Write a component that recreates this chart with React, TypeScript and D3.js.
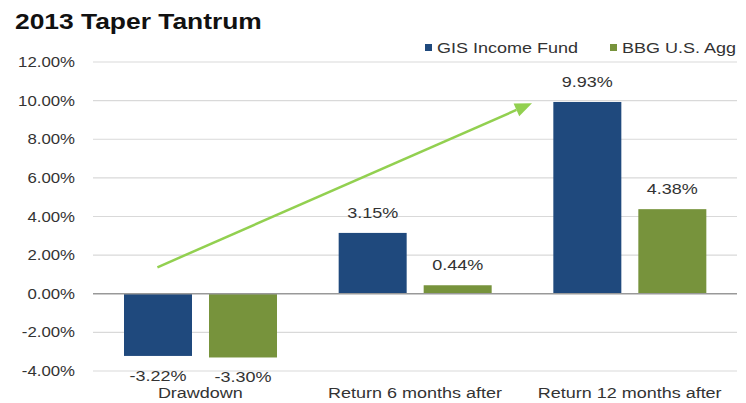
import React from 'react';
import * as d3 from 'd3';

const categories = ['Drawdown', 'Return 6 months after', 'Return 12 months after'];
const seriesNames = ['GIS Income Fund', 'BBG U.S. Agg'];
const gisValues = [-3.22, 3.15, 9.93];
const aggValues = [-3.3, 0.44, 4.38];
const yTicks = [-4, -2, 0, 2, 4, 6, 8, 10, 12];
const colors = ['#1F497D', '#77933C'];

// trend arrow, in data terms: category + offset (fraction of band) and value
const arrowFrom = { cat: 'Drawdown', offset: 0.3, value: 1.37 };
const arrowTo = { cat: 'Return 12 months after', offset: 0.045, value: 9.87 };

const W = 746;
const H = 403;
const SX = 1.2; // source image is stretched horizontally
const FONT = 'Arial, "Liberation Sans", sans-serif';

const Txt = ({ x, y, anchor = 'middle', size = 15, weight = 'normal', fill = '#333', children }: any) => (
    <g transform={`translate(${x},${y}) scale(${SX},1)`}>
        <text x={0} y={0} textAnchor={anchor} fontSize={size} fontWeight={weight} fill={fill} fontFamily={FONT}>
            {children}
        </text>
    </g>
);

const App = () => {
    const x = d3.scaleBand().domain(categories).range([93, 737]);
    const x1 = d3.scaleBand().domain(seriesNames).range([31, 184]).paddingInner(0.2);
    const y = d3.scaleLinear().domain([-4, 12]).range([371, 62]);
    const fmt = (v: number) => d3.format('.2f')(v).replace('\u2212', '-') + '%';

    const data = categories.map((c, i) => ({ cat: c, vals: [gisValues[i], aggValues[i]] }));

    const ax = (x(arrowFrom.cat) as number) + arrowFrom.offset * x.step();
    const ay = y(arrowFrom.value);
    const bx = (x(arrowTo.cat) as number) + arrowTo.offset * x.step();
    const by = y(arrowTo.value);
    const ang = Math.atan2(by - ay, bx - ax);
    const headLen = 17;
    const headW = 7;
    const baseX = bx - headLen * Math.cos(ang);
    const baseY = by - headLen * Math.sin(ang);
    const px = -Math.sin(ang) * headW;
    const py = Math.cos(ang) * headW;

    return (
        <svg width={W} height={H} style={{ display: 'block' }}>
            <style>{'body{margin:0}'}</style>
            <rect width={W} height={H} fill="#fff" />
            <Txt x={15} y={29} anchor="start" size={22} weight="bold" fill="#111">2013 Taper Tantrum</Txt>

            {yTicks.map(t => (
                <g key={t}>
                    {t !== 0 && (
                        <line x1={93} x2={737} y1={y(t)} y2={y(t)} stroke="#d9d9d9" strokeWidth={1.2} />
                    )}
                    <Txt x={75} y={y(t) + 5} anchor="end" size={14}>{fmt(t)}</Txt>
                </g>
            ))}

            {data.map(d => (
                <g key={d.cat} transform={`translate(${x(d.cat)},0)`}>
                    {d.vals.map((v, j) => {
                        const bx0 = x1(seriesNames[j]) as number;
                        const top = y(Math.max(0, v));
                        const bot = y(Math.min(0, v));
                        const cx = bx0 + x1.bandwidth() / 2;
                        return (
                            <g key={j}>
                                <rect x={bx0} y={top} width={x1.bandwidth()} height={bot - top} fill={colors[j]} />
                                <Txt x={cx} y={v >= 0 ? top - 15 : bot + 25} size={15}>{fmt(v)}</Txt>
                            </g>
                        );
                    })}
                    <Txt x={x.bandwidth() / 2} y={398} size={15}>{d.cat}</Txt>
                </g>
            ))}

            <line x1={93} x2={737} y1={y(0)} y2={y(0)} stroke="#999" strokeWidth={1.5} />

            <line x1={ax} y1={ay} x2={baseX} y2={baseY} stroke="#92D050" strokeWidth={2.5} />
            <path
                d={`M${bx},${by}L${baseX + px},${baseY + py}L${baseX - px},${baseY - py}Z`}
                fill="#92D050"
            />

            {seriesNames.map((s, i) => {
                const lx = [425, 610][i];
                return (
                    <g key={s}>
                        <rect x={lx} y={44} width={7} height={7} fill={colors[i]} />
                        <Txt x={lx + 12} y={53} anchor="start" size={15}>{s}</Txt>
                    </g>
                );
            })}
        </svg>
    );
};

export default App;
